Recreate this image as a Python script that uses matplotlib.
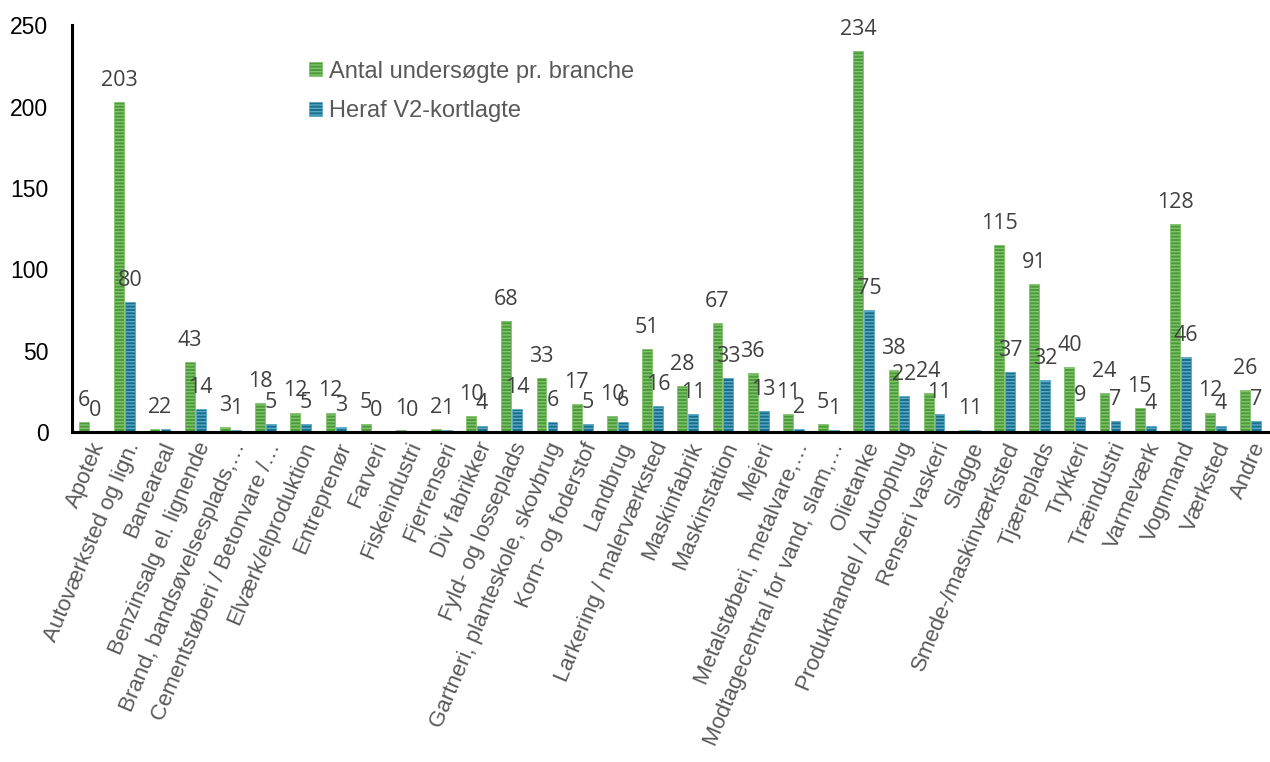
import numpy as np
import matplotlib.pyplot as plt

categories = [
    "Apotek", "Autoværksted og lign.", "Baneareal", "Benzinsalg el. lignende",
    "Brand, bandsøvelsesplads,…", "Cementstøberi / Betonvare /…",
    "Elværk/elproduktion", "Entreprenør", "Farveri", "Fiskeindustri",
    "Fjerrenseri", "Div fabrikker", "Fyld- og losseplads",
    "Gartneri, planteskole, skovbrug", "Korn- og foderstof", "Landbrug",
    "Larkering / malerværksted", "Maskinfabrik", "Maskinstation", "Mejeri",
    "Metalstøberi, metalvare,…", "Modtagecentral for vand, slam,…",
    "Olietanke", "Produkthandel / Autoophug", "Renseri vaskeri", "Slagge",
    "Smede-/maskinværksted", "Tjæreplads", "Trykkeri", "Træindustri",
    "Varmeværk", "Vognmand", "Værksted", "Andre",
]
undersoegte = [6, 203, 2, 43, 3, 18, 12, 12, 5, 1, 2, 10, 68, 33, 17, 10, 51,
               28, 67, 36, 11, 5, 234, 38, 24, 1, 115, 91, 40, 24, 15, 128, 12, 26]
v2_kortlagte = [0, 80, 2, 14, 1, 5, 5, 3, 0, 0, 1, 4, 14, 6, 5, 6, 16,
                11, 33, 13, 2, 1, 75, 22, 11, 1, 37, 32, 9, 7, 4, 46, 4, 7]
series_names = ["Antal undersøgte pr. branche", "Heraf V2-kortlagte"]
y_ticks = [0, 50, 100, 150, 200, 250]

GREEN = "#4C9A3A"
GREEN_HATCH = "#82C46E"
BLUE = "#1A6E8C"
BLUE_HATCH = "#5AAAC6"
LABEL_GRAY = "#595959"
DATA_GRAY = "#404040"

fig = plt.figure(figsize=(12.7, 7.62), dpi=100)
ax = fig.add_axes([0.0567, 0.433, 0.942, 0.534])

x = np.arange(len(categories))
w = 0.28
gap = 0.015

plt.rcParams["hatch.linewidth"] = 1.0
bars_g = ax.bar(x - w / 2 - gap, undersoegte, w, color=GREEN,
                edgecolor=GREEN_HATCH, linewidth=0.6, hatch="-----",
                label=series_names[0])
bars_b = ax.bar(x + w / 2 + gap, v2_kortlagte, w, color=BLUE,
                edgecolor=BLUE_HATCH, linewidth=0.6, hatch="-----",
                label=series_names[1])

# Data labels
for bars, vals in ((bars_g, undersoegte), (bars_b, v2_kortlagte)):
    for b, v in zip(bars, vals):
        ax.annotate(str(v), (b.get_x() + b.get_width() / 2, v),
                    xytext=(0, 8), textcoords="offset points",
                    ha="center", va="bottom", fontsize=15.5,
                    color=DATA_GRAY, family="Open Sans")

ax.set_xlim(-0.5, len(categories) - 0.5)
ax.set_ylim(0, 250)
ax.set_yticks(y_ticks)
ax.set_yticklabels([str(t) for t in y_ticks], fontsize=16.5,
                   family="Liberation Sans", color="black")
ax.set_xticks(x)
ax.set_xticklabels(categories, rotation=67, ha="right",
                   rotation_mode="anchor", fontsize=16,
                   family="Liberation Sans", color=LABEL_GRAY)
ax.tick_params(axis="both", length=0)
ax.tick_params(axis="y", pad=17)
ax.tick_params(axis="x", pad=5)

for s in ("top", "right"):
    ax.spines[s].set_visible(False)
ax.spines["left"].set_linewidth(2.2)
ax.spines["bottom"].set_linewidth(2.2)

leg = ax.legend(loc="upper left", bbox_to_anchor=(0.18, 0.965), frameon=False,
                prop={"family": "Liberation Sans", "size": 17},
                handlelength=0.55, handleheight=0.55, handletextpad=0.3,
                labelspacing=0.75)
for t in leg.get_texts():
    t.set_color(LABEL_GRAY)

fig.savefig("out.png", dpi=100)
